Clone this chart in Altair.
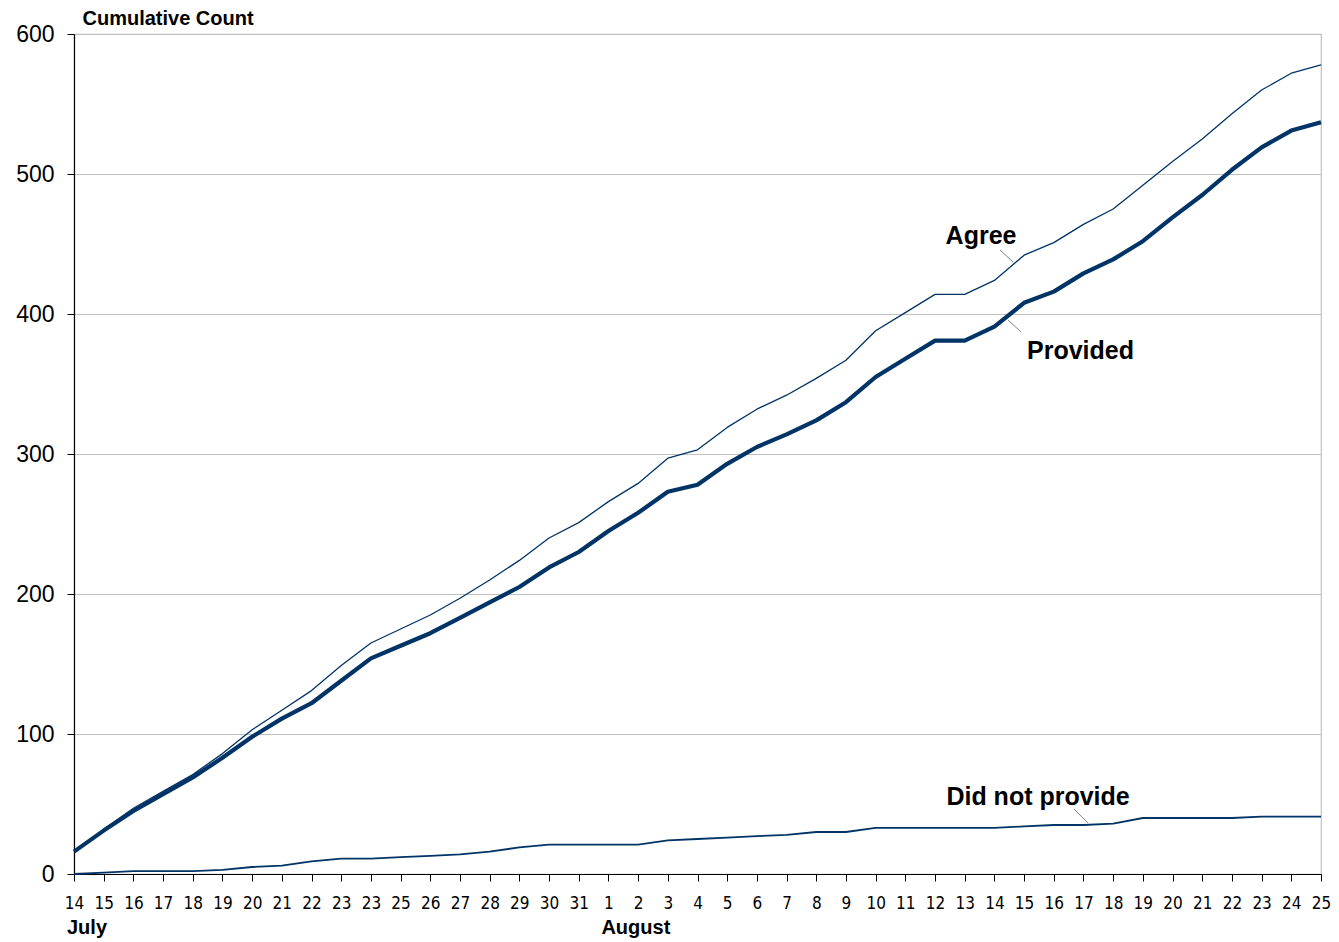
import altair as alt
import pandas as pd

day_labels = ["14", "15", "16", "17", "18", "19", "20", "21", "22", "23", "23", "25",
              "26", "27", "28", "29", "30", "31", "1", "2", "3", "4", "5", "6", "7",
              "8", "9", "10", "11", "12", "13", "14", "15", "16", "17", "18", "19",
              "20", "21", "22", "23", "24", "25"]

provided = [16, 31, 45, 57, 69, 83, 98, 111, 122, 138, 154, 163, 172, 183, 194, 205,
            219, 230, 245, 258, 273, 278, 293, 305, 314, 324, 337, 355, 368, 381, 381,
            391, 408, 416, 429, 439, 452, 469, 485, 503, 519, 531, 537]

agree = [16, 32, 47, 59, 71, 86, 103, 117, 131, 149, 165, 175, 185, 197, 210, 224,
         240, 251, 266, 279, 297, 303, 319, 332, 342, 354, 367, 388, 401, 414, 414,
         424, 442, 451, 464, 475, 492, 509, 525, 543, 560, 572, 578]

did_not_provide = [0, 1, 2, 2, 2, 3, 5, 6, 9, 11, 11, 12, 13, 14, 16, 19, 21, 21, 21,
                   21, 24, 25, 26, 27, 28, 30, 30, 33, 33, 33, 33, 33, 34, 35, 35, 36,
                   40, 40, 40, 40, 41, 41, 41]

# annotation labels (x index, y value)
label_names = ["Agree", "Provided", "Did not provide"]
label_x = [30.55, 33.9, 32.47]
label_y = [455.7, 373.6, 55.0]

# leader lines
leader_x = [31.19, 31.46, 33.68]
leader_x2 = [31.63, 31.90, 34.15]
leader_y = [445.7, 395.7, 46.4]
leader_y2 = [437.1, 387.1, 36.4]

months = ["July", "August"]
month_idx = [0, 18]

idx = list(range(len(day_labels)))
df_agree = pd.DataFrame({"i": idx, "v": agree})
df_prov = pd.DataFrame({"i": idx, "v": provided})
df_dnp = pd.DataFrame({"i": idx, "v": did_not_provide})

lab_df = pd.DataFrame({"name": label_names, "i": label_x, "v": label_y})
lead_df = pd.DataFrame({"i": leader_x, "i2": leader_x2, "v": leader_y, "v2": leader_y2})
mon_df = pd.DataFrame({"i": month_idx, "m": months})

W, H = 1247, 840
FONT = "Liberation Sans"
NARROW = "Liberation Sans Narrow, DejaVu Sans Condensed, Roboto"
NAVY = "#003366"

label_js = "[" + ",".join("'" + s + "'" for s in day_labels) + "]"

x_scale = alt.Scale(domain=[0, len(day_labels) - 1], nice=False, zero=False)
y_scale = alt.Scale(domain=[0, 600], nice=False)

x_axis = alt.Axis(
    values=idx,
    labelExpr=label_js + "[datum.value]",
    title=None, grid=False, tickSize=7, tickColor="black", tickWidth=1,
    domainColor="black", domainWidth=1.2,
    labelFont=NARROW, labelFontSize=17, labelColor="black", labelPadding=14,
    labelAngle=0, labelFlush=False, labelOverlap=False, labelBaseline="top",
)
y_axis = alt.Axis(
    values=[0, 100, 200, 300, 400, 500, 600],
    title="Cumulative Count", titleAngle=0, titleX=8, titleY=-10,
    titleAlign="left", titleBaseline="alphabetic",
    titleFont=FONT, titleFontSize=20, titleFontWeight="bold", titleColor="black",
    grid=True, gridColor="#c0c0c0", gridWidth=1.2,
    tickSize=7, tickColor="black", domainColor="black", domainWidth=1.2,
    labelFont=FONT, labelFontSize=23, labelColor="black", labelPadding=13,
)

X = alt.X("i:Q", scale=x_scale, axis=x_axis)
Y = alt.Y("v:Q", scale=y_scale, axis=y_axis)


def series_line(data, width):
    return alt.Chart(data).mark_line(color=NAVY, strokeWidth=width, strokeJoin="round").encode(
        x=X, y=Y,
    )


line_agree = series_line(df_agree, 1.3)
line_prov = series_line(df_prov, 4.2)
line_dnp = series_line(df_dnp, 1.8)

leaders = alt.Chart(lead_df).mark_rule(color="#808080", strokeWidth=1).encode(
    x=X, x2="i2:Q", y=Y, y2="v2:Q",
)

labels = alt.Chart(lab_df).mark_text(
    font=FONT, fontSize=25, fontWeight="bold", color="black",
    align="center", baseline="middle",
).encode(x=X, y=Y, text="name:N")

month_text = alt.Chart(mon_df).mark_text(
    font=FONT, fontSize=20, fontWeight="bold", color="black",
    align="left", baseline="alphabetic", dx=-7,
).encode(
    x=X,
    y=alt.value(H + 60),
    text="m:N",
)

chart = alt.layer(line_agree, line_prov, line_dnp, leaders, labels, month_text).properties(
    width=W, height=H,
    autosize=alt.AutoSizeParams(type="none"),
    padding={"left": 66, "top": 26, "right": 10, "bottom": 64},
    background="white",
).configure_view(stroke="#c0c0c0", strokeWidth=1.2)

chart.save("out.html", embed_options={"renderer": "svg", "actions": False})
